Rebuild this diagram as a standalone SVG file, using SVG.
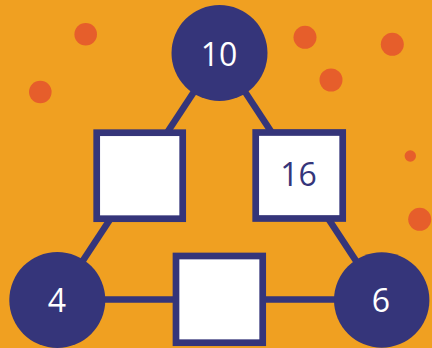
<svg xmlns="http://www.w3.org/2000/svg" width="432" height="348" viewBox="0 0 432 348">
<style>
.dot{fill:#E65E2B}
.edge{stroke:#35357A;stroke-width:6.7;fill:none}
.circ{fill:#35357A}
.box{fill:#FFFFFF;stroke:#35357A;stroke-width:6.7}
.lbl{font-family:"Open Sans","Noto Sans","DejaVu Sans",sans-serif;font-size:32px;text-anchor:middle}
.w{fill:#FFFFFF}
.n{fill:#35357A}
</style>
<rect width="432" height="348" fill="#F0A021"/>
<g id="dots">
<circle class="dot" cx="85.7" cy="34.3" r="11.3"/>
<circle class="dot" cx="40.3" cy="92" r="11.3"/>
<circle class="dot" cx="305" cy="37.3" r="11.5"/>
<circle class="dot" cx="392.3" cy="44.3" r="11.5"/>
<circle class="dot" cx="331" cy="80" r="11.5"/>
<circle class="dot" cx="410.3" cy="156" r="5.7"/>
<circle class="dot" cx="419.7" cy="219.3" r="11.5"/>
</g>
<g id="connectors">
<line class="edge" x1="219.5" y1="53" x2="57" y2="300"/>
<line class="edge" x1="219.5" y1="53" x2="381.7" y2="300"/>
<line class="edge" x1="57" y1="299.5" x2="381.7" y2="299.5"/>
</g>
<g id="n10">
<circle class="circ" cx="219.5" cy="53" r="48"/>
<text class="lbl w" x="219" y="65.5">10</text>
</g>
<g id="n4">
<circle class="circ" cx="57.3" cy="300" r="48"/>
<text class="lbl w" x="57" y="311.5">4</text>
</g>
<g id="n6">
<circle class="circ" cx="381.7" cy="300" r="47.7"/>
<text class="lbl w" x="381" y="311.5">6</text>
</g>
<g id="sq-left">
<rect class="box" x="96.7" y="132.7" width="86" height="86"/>
</g>
<g id="sq-right">
<rect class="box" x="255.7" y="132.5" width="87" height="86"/>
<text class="lbl n" x="298.5" y="186">16</text>
</g>
<g id="sq-bottom">
<rect class="box" x="176" y="256" width="86.7" height="86.7"/>
</g>
</svg>
